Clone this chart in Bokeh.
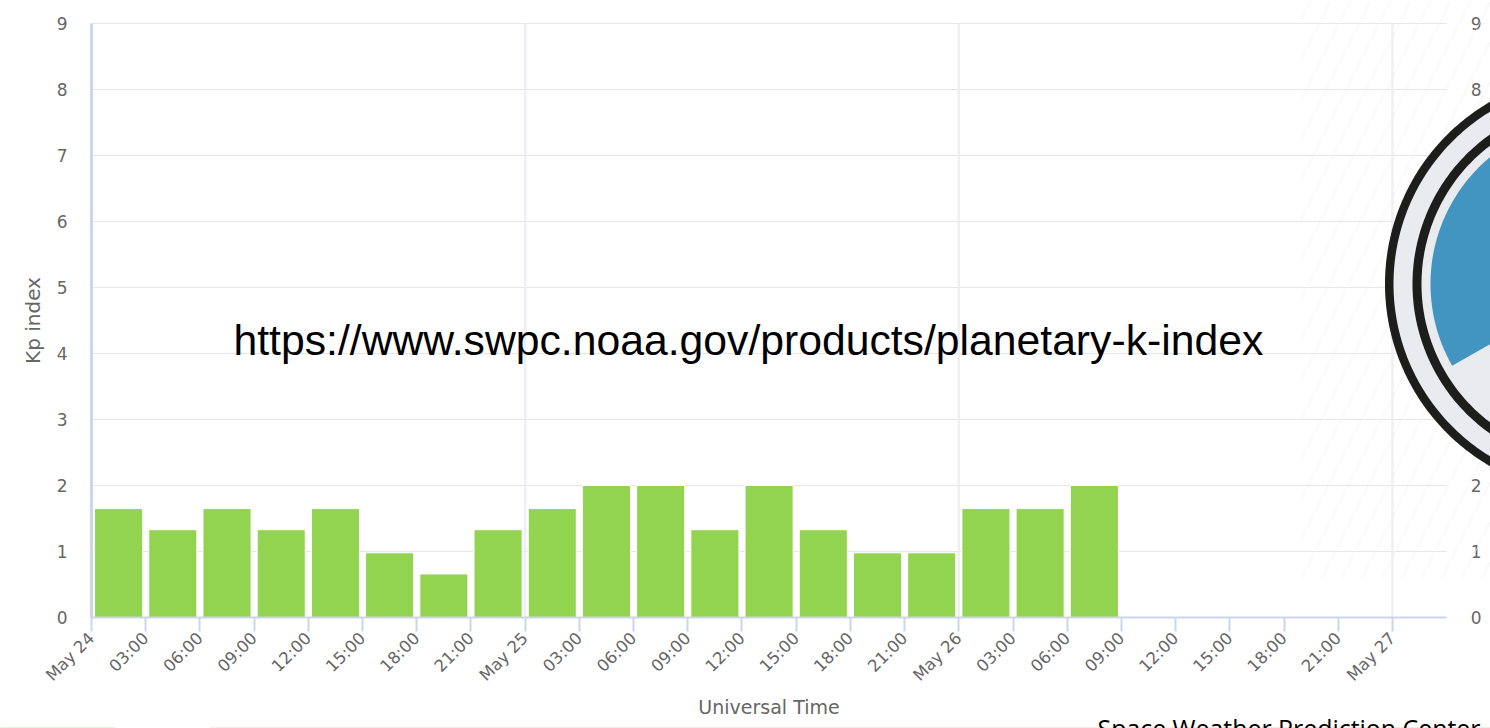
import numpy as np
from bokeh.embed import file_html
from bokeh.resources import INLINE
from bokeh.plotting import figure
from bokeh.models import (ColumnDataSource, FixedTicker, LinearAxis, Label, PolyAnnotation)

# Data
hours_mid = [1.5, 4.5, 7.5, 10.5, 13.5, 16.5, 19.5, 22.5, 25.5, 28.5, 31.5, 34.5, 37.5, 40.5, 43.5, 46.5, 49.5, 52.5, 55.5]
kp_values = [1.65, 1.33, 1.65, 1.33, 1.65, 0.98, 0.66, 1.33, 1.65, 2.0, 2.0, 1.33, 2.0, 1.33, 0.98, 0.98, 1.65, 1.65, 2.0]
x_ticks = list(range(0, 73, 3))
x_labels = ["May 24", "03:00", "06:00", "09:00", "12:00", "15:00", "18:00", "21:00",
            "May 25", "03:00", "06:00", "09:00", "12:00", "15:00", "18:00", "21:00",
            "May 26", "03:00", "06:00", "09:00", "12:00", "15:00", "18:00", "21:00", "May 27"]
y_ticks = list(range(0, 10))
day_ticks = [0, 24, 48, 72]
x_end_hours = 75
url_text = "https://www.swpc.noaa.gov/products/planetary-k-index"
org_text = "Space Weather Prediction Center"

FONT = "DejaVu Sans"
GREY = "#666666"
AXIS = "#ccd6eb"
W, H = 1490, 728
PX_H = 18.069   # pixels per hour
PX_K = 66.0     # pixels per Kp unit
X0, Y0 = 91, 617

# The plot frame fills the page; axes sit at fixed places inside it.
p = figure(width=W, height=H, output_backend="svg", toolbar_location=None,
           x_range=(-X0 / PX_H, (W - X0) / PX_H), y_range=((Y0 - H) / PX_K, Y0 / PX_K),
           background_fill_color="white", border_fill_color="white", outline_line_color=None,
           x_axis_type=None, y_axis_type=None,
           min_border_left=0, min_border_right=0, min_border_top=0, min_border_bottom=0)
p.grid.visible = False

def sx(x):
    return list(np.asarray(x, dtype=float))
def sy(y):
    return list(H - np.asarray(y, dtype=float))

def poly(xs, ys, **kw):
    p.add_layout(PolyAnnotation(xs=sx(xs), ys=sy(ys), xs_units="screen", ys_units="screen",
                                line_color=None, **kw))

# faint bands at the very bottom of the page
poly([0, 115, 115, 0], [726.5, 726.5, 728, 728], fill_color="#e2f5dc", fill_alpha=1)
poly([210, W, W, 210], [726.5, 726.5, 728, 728], fill_color="#fbe9e4", fill_alpha=1)

# grid
p.segment(x0=[0] * len(y_ticks), x1=[x_end_hours] * len(y_ticks), y0=y_ticks, y1=y_ticks,
          line_color="#e6e6e6", line_width=1.2, level="underlay")
p.segment(x0=day_ticks, x1=day_ticks, y0=[0] * len(day_ticks), y1=[y_ticks[-1]] * len(day_ticks),
          line_color="#f0f0f4", line_width=2.5, level="underlay")

# bars
src = ColumnDataSource(dict(x=hours_mid, top=kp_values))
p.vbar(x="x", top="top", bottom=0, width=2.66, source=src, fill_color="#92d350",
       line_color="white", line_width=1)

# axes
xa = LinearAxis(fixed_location=0, ticker=FixedTicker(ticks=x_ticks), bounds=(0, x_end_hours))
xa.major_label_overrides = {t: s for t, s in zip(x_ticks, x_labels)}
xa.major_label_orientation = np.pi / 4
xa.major_label_text_font = FONT
xa.major_label_text_font_size = "16.5px"
xa.major_label_text_color = GREY
xa.major_label_standoff = 4
xa.major_tick_out = 14
xa.major_tick_in = 0
xa.minor_tick_line_color = None
xa.major_tick_line_color = AXIS
xa.major_tick_line_width = 2
xa.axis_line_color = AXIS
xa.axis_line_width = 2
xa.axis_label = "Universal Time"
xa.axis_label_text_font = FONT
xa.axis_label_text_font_size = "19px"
xa.axis_label_text_font_style = "normal"
xa.axis_label_text_color = GREY
xa.axis_label_standoff = 1
p.add_layout(xa, "below")

ya = LinearAxis(fixed_location=0, ticker=FixedTicker(ticks=y_ticks), bounds=(0, y_ticks[-1]))
ya.major_label_text_font = FONT
ya.major_label_text_font_size = "17px"
ya.major_label_text_color = GREY
ya.major_label_standoff = 18
ya.major_tick_line_color = None
ya.minor_tick_line_color = None
ya.axis_line_color = AXIS
ya.axis_line_width = 3
ya.axis_label = "Kp index"
ya.axis_label_text_font = FONT
ya.axis_label_text_font_size = "20px"
ya.axis_label_text_font_style = "normal"
ya.axis_label_text_color = GREY
ya.axis_label_standoff = 9
p.add_layout(ya, "left")

ra = LinearAxis(fixed_location=x_end_hours, ticker=FixedTicker(ticks=y_ticks), bounds=(0, y_ticks[-1]))
ra.major_label_text_font = FONT
ra.major_label_text_font_size = "17px"
ra.major_label_text_color = GREY
ra.major_label_standoff = 18
ra.major_tick_line_color = None
ra.minor_tick_line_color = None
ra.axis_line_color = None
p.add_layout(ra, "right")

# faint hatching, beneath the logo
poly([1300, W, W, 1300], [0, 0, 578, 578], fill_alpha=0, hatch_pattern="right_diagonal_line",
     hatch_color="#ededf1", hatch_alpha=0.6, hatch_weight=1, hatch_scale=40)

# logo overlay, in page pixels
cx, cy = 1595.0, 283.5
th = np.linspace(0, 2 * np.pi, 361)
def disc(r, color):
    poly(cx + r * np.cos(th), cy + r * np.sin(th), fill_color=color, fill_alpha=1)
disc(210.5, "#1d1d1b")
disc(202, "#e9ebee")
disc(183, "#1d1d1b")
disc(174, "#e9ebee")
a = np.radians(np.linspace(90, 209.7, 120))
poly(np.r_[cx, cx + 165 * np.cos(a)], np.r_[cy, cy - 165 * np.sin(a)],
     fill_color="#4395c1", fill_alpha=1)

p.add_layout(Label(x=233, y=H - 339, x_units="screen", y_units="screen", text=url_text,
                   text_font="Liberation Sans", text_font_size="42.7px", text_color="#000000",
                   text_align="left", text_baseline="middle"))
p.add_layout(Label(x=1097, y=H - 710, x_units="screen", y_units="screen", text=org_text,
                   text_font="Open Sans", text_font_size="24.9px", text_color="#000000",
                   text_align="left", text_baseline="top"))

open("out.html", "w").write(file_html(p, INLINE))
